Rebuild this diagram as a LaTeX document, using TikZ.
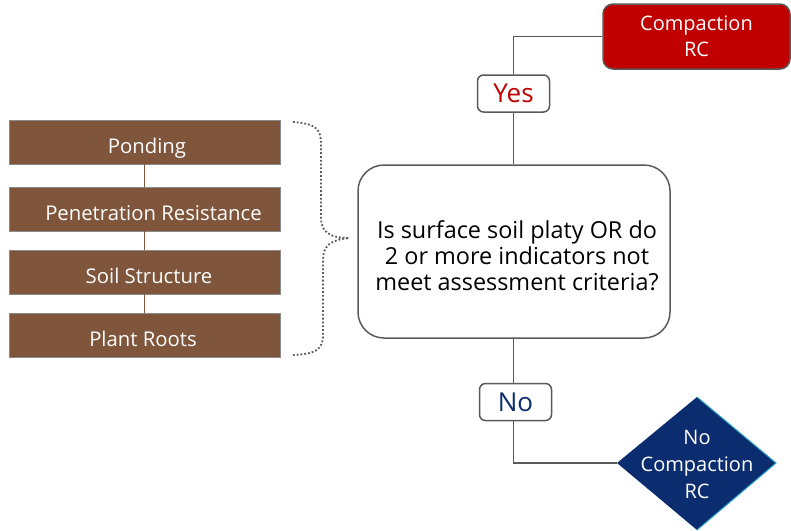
\documentclass[tikz,border=0pt]{standalone}
\usepackage{fontspec}
\setmainfont{Open Sans}
\usetikzlibrary{shapes.geometric}
\definecolor{soil}{HTML}{7F553B}
\definecolor{crimson}{HTML}{C00000}
\definecolor{navy}{HTML}{0B2C6E}
\definecolor{edge}{HTML}{5A5A5A}
\definecolor{rim}{HTML}{2AA8C8}
\begin{document}
\begin{tikzpicture}[x=1pt,y=-1pt,
  soilbox/.style={draw=edge!70,line width=0.8pt,fill=soil,minimum width=271pt,minimum height=44pt,inner sep=0pt},
  soiltext/.style={text=white,font=\fontsize{20.3}{24}\selectfont,inner sep=0pt,text height=22pt,text depth=0pt},
  label/.style={draw=edge,line width=1.5pt,rounded corners=6pt,fill=white,minimum width=72pt,minimum height=37pt,inner sep=0pt,font=\fontsize{26}{30}\selectfont},
  wire/.style={draw=edge,line width=1.5pt},
  link/.style={draw=soil,line width=1.2pt}]
\useasboundingbox (0,0) rectangle (791,530);
% soil indicator boxes
\node[soilbox] (p1) at (144.5,142) {};
\node[soilbox] (p2) at (144.5,209) {};
\node[soilbox] (p3) at (144.5,272) {};
\node[soilbox] (p4) at (144.5,335.5) {};
\node[soiltext] (t1) at (147,142) {Ponding};
\node[soiltext] (t2) at (153.5,209) {Penetration Resistance};
\node[soiltext] (t3) at (149,272) {Soil Structure};
\node[soiltext] (t4) at (143,335.5) {Plant Roots};
\draw[link] (p1) -- (p2);
\draw[link] (p2) -- (p3);
\draw[link] (p3) -- (p4);
% brace
\coordinate (bt) at (293,122);
\coordinate (bm) at (349,238);
\coordinate (bb) at (293,355);
\draw[edge,line width=1.8pt,dotted] (bt) .. controls (318,124) and (321,130) .. (321,145)
  -- (321,218) .. controls (321,232) and (330,238) .. (bm)
  .. controls (330,240) and (323,246) .. (323,260)
  -- (323,335) .. controls (323,350) and (315,354) .. (bb);
% question
\node[draw=edge,line width=1.5pt,rounded corners=26pt,minimum width=312pt,minimum height=173pt,inner sep=0pt] (q) at (514,251.5) {};
\node[align=center,inner sep=0pt,font=\fontsize{23.4}{26}\selectfont] (qt) at (517,255.5)
  {Is surface soil platy OR do\\2 or more indicators not\\meet assessment criteria?};
% yes branch
\node[label,text=crimson] (yes) at (513.5,93.5) {Yes};
\node[draw=edge,line width=1.5pt,rounded corners=10pt,fill=crimson,text=white,minimum width=187pt,minimum height=65pt,inner sep=0pt,align=center,font=\fontsize{20}{26}\selectfont] (rc) at (696.5,36.5) {Compaction\\RC};
\draw[wire] (q.north -| yes) -- (yes);
\draw[wire] (yes.north) |- (rc.west);
% no branch
\node[label,text=navy] (no) at (515.5,402) {No};
\coordinate (dt) at (697,397);
\coordinate (dr) at (776,463);
\coordinate (db) at (697,530);
\coordinate (dl) at (617,463);
\fill[navy] (dt) -- (dr) -- (db) -- (dl) -- cycle;
\draw[rim,line width=1pt] (dt) -- (dr) -- (db);
\node[text=white,align=center,inner sep=0pt,font=\fontsize{20}{27}\selectfont] (nrc) at (697,464) {No\\Compaction\\RC};
\draw[wire] (q.south -| yes) -- (no.north -| yes);
\draw[wire] (no.south -| yes) |- (dl);
\end{tikzpicture}
\end{document}
